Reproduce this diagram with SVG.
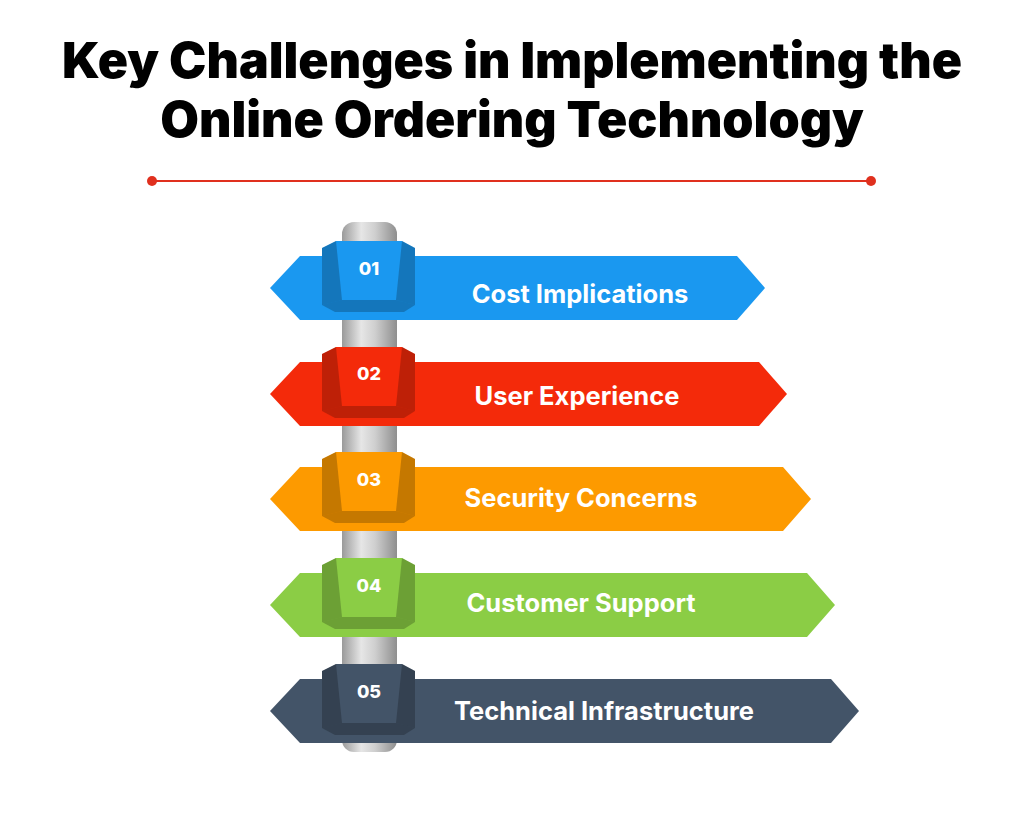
<svg xmlns="http://www.w3.org/2000/svg" width="1024" height="831" viewBox="0 0 1024 831">
<defs>
<linearGradient id="pole" x1="0" x2="1" y1="0" y2="0">
<stop offset="0" stop-color="#9a9a9a"/><stop offset="0.35" stop-color="#e6e6e6"/><stop offset="0.6" stop-color="#cfcfcf"/><stop offset="1" stop-color="#8e8e8e"/>
</linearGradient>
<style>
.t{font-family:Inter,"Liberation Sans",sans-serif;font-weight:900;fill:#000;text-anchor:middle}
.l{font-family:Inter,"Liberation Sans",sans-serif;font-weight:700;fill:#fff;text-anchor:middle;font-size:25.5px}
.n{font-family:Inter,"Liberation Sans",sans-serif;font-weight:800;fill:#fff;text-anchor:middle;font-size:18px}
.shade{fill:#000;opacity:0.22}
</style>
</defs>
<rect width="1024" height="831" fill="#fff"/>
<text class="t" x="512" y="78" font-size="50">Key Challenges in Implementing the</text>
<text class="t" x="512" y="137" font-size="50">Online Ordering Technology</text>
<g id="divider"><line x1="152" y1="181" x2="871" y2="181" stroke="#e0301e" stroke-width="2"/><circle cx="152" cy="181" r="5" fill="#e0301e"/><circle cx="871" cy="181" r="5" fill="#e0301e"/></g>
<g id="connectors"><rect x="342" y="222" width="55" height="530" rx="12" fill="url(#pole)"/></g>
<g id="n1">
<polygon points="270,288 300,256 737,256 765,288 737,320 300,320" fill="#1a98f0"/>
<polygon points="322,248 336,241 402,241 415,248 415,305 404,312 335,312 322,305" fill="#1a98f0"/>
<polygon class="shade" points="322,248 336,241 342,300 322,305"/><polygon class="shade" points="415,248 402,241 396,300 415,305"/>
<polygon class="shade" points="322,305 342,300 396,300 415,305 404,312 335,312"/>
<text class="n" x="369" y="275">01</text><text class="l" x="580" y="303">Cost Implications</text>
</g>
<g id="n2">
<polygon points="270,394 300,362 759,362 787,394 759,426 300,426" fill="#f42a0a"/>
<polygon points="322,354 336,347 402,347 415,354 415,411 404,418 335,418 322,411" fill="#f42a0a"/>
<polygon class="shade" points="322,354 336,347 342,406 322,411"/><polygon class="shade" points="415,354 402,347 396,406 415,411"/>
<polygon class="shade" points="322,411 342,406 396,406 415,411 404,418 335,418"/>
<text class="n" x="369" y="380">02</text><text class="l" x="577" y="405">User Experience</text>
</g>
<g id="n3">
<polygon points="270,499 300,467 783,467 811,499 783,531 300,531" fill="#fd9a00"/>
<polygon points="322,459 336,452 402,452 415,459 415,516 404,523 335,523 322,516" fill="#fd9a00"/>
<polygon class="shade" points="322,459 336,452 342,511 322,516"/><polygon class="shade" points="415,459 402,452 396,511 415,516"/>
<polygon class="shade" points="322,516 342,511 396,511 415,516 404,523 335,523"/>
<text class="n" x="369" y="486">03</text><text class="l" x="581" y="507">Security Concerns</text>
</g>
<g id="n4">
<polygon points="270,605 300,573 807,573 835,605 807,637 300,637" fill="#8bcd45"/>
<polygon points="322,565 336,558 402,558 415,565 415,622 404,629 335,629 322,622" fill="#8bcd45"/>
<polygon class="shade" points="322,565 336,558 342,617 322,622"/><polygon class="shade" points="415,565 402,558 396,617 415,622"/>
<polygon class="shade" points="322,622 342,617 396,617 415,622 404,629 335,629"/>
<text class="n" x="369" y="592">04</text><text class="l" x="581" y="612">Customer Support</text>
</g>
<g id="n5">
<polygon points="270,711 300,679 831,679 859,711 831,743 300,743" fill="#435468"/>
<polygon points="322,671 336,664 402,664 415,671 415,728 404,735 335,735 322,728" fill="#435468"/>
<polygon class="shade" points="322,671 336,664 342,723 322,728"/><polygon class="shade" points="415,671 402,664 396,723 415,728"/>
<polygon class="shade" points="322,728 342,723 396,723 415,728 404,735 335,735"/>
<text class="n" x="369" y="698">05</text><text class="l" x="604" y="720">Technical Infrastructure</text>
</g>
</svg>
